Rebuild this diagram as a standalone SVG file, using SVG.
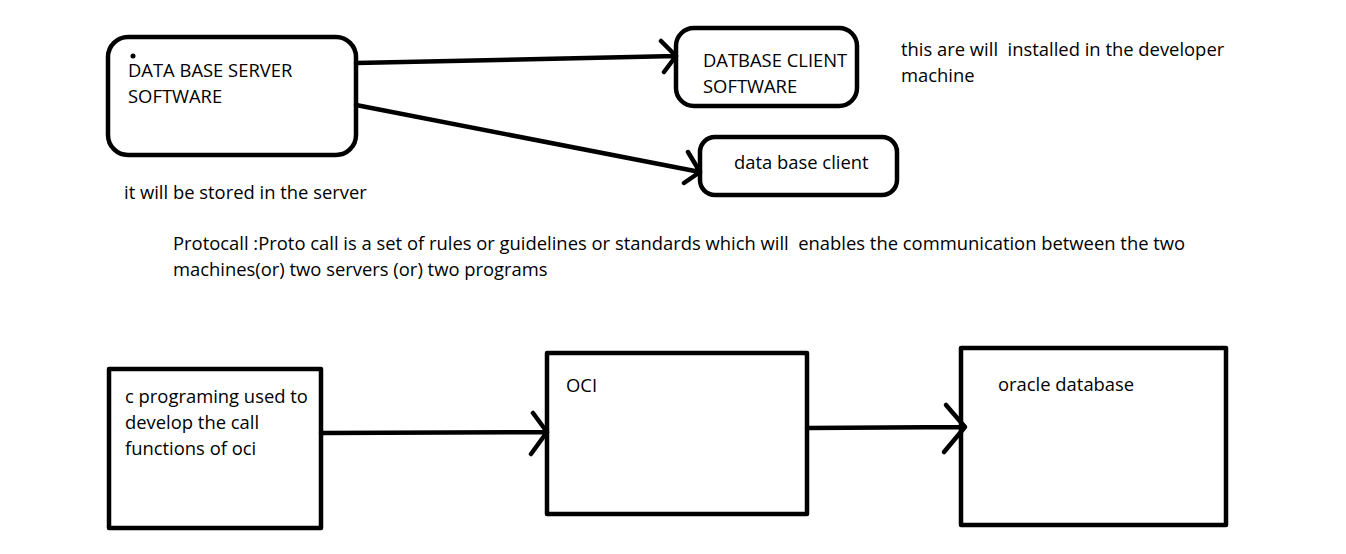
<svg xmlns="http://www.w3.org/2000/svg" width="1346" height="554" viewBox="0 0 1346 554">
<style>
.b{fill:none;stroke:#000;stroke-width:4.5;stroke-linejoin:round}
.c{fill:none;stroke:#000;stroke-width:4.5;stroke-linecap:round;stroke-linejoin:round}
text{font-family:"Open Sans","Liberation Sans",sans-serif;font-size:18.4px;fill:#000;white-space:pre}
</style>
<rect width="1346" height="554" fill="#fff"/>
<g id="server">
<rect class="b" x="108" y="37" width="248" height="118" rx="20"/>
<circle cx="133" cy="56" r="2.5" fill="#000"/>
<text x="128" y="77">DATA BASE SERVER</text>
<text x="128" y="103">SOFTWARE</text>
</g>
<g id="clientsw">
<rect class="b" x="676" y="28" width="181" height="78" rx="18"/>
<text x="703" y="67">DATBASE CLIENT</text>
<text x="703" y="93">SOFTWARE</text>
</g>
<g id="client">
<rect class="b" x="700" y="137" width="197" height="58" rx="15"/>
<text x="734" y="169">data base client</text>
</g>
<g id="notes">
<text x="901" y="56" xml:space="preserve">this are will  installed in the developer</text>
<text x="901" y="82">machine</text>
<text x="124" y="199">it will be stored in the server</text>
<text x="173" y="250" xml:space="preserve">Protocall :Proto call is a set of rules or guidelines or standards which will  enables the communication between the two</text>
<text x="173" y="276">machines(or) two servers (or) two programs</text>
</g>
<g id="cprog">
<rect class="b" x="109" y="369" width="212" height="159"/>
<text x="125" y="403">c programing used to</text>
<text x="125" y="429">develop the call</text>
<text x="125" y="455">functions of oci</text>
</g>
<g id="oci">
<rect class="b" x="547" y="353" width="260" height="161"/>
<text x="566" y="392">OCI</text>
</g>
<g id="oracle">
<rect class="b" x="961" y="348" width="265" height="177"/>
<text x="998" y="391">oracle database</text>
</g>
<g id="connectors">
<path class="c" d="M356 63 L676 56 M661 41 L676 56 L664 72"/>
<path class="c" d="M356 105 L700 172 M688 152 L700 172 L684 183"/>
<path class="c" d="M321 433 L547 432 M533 413 L547 432 L531 454"/>
<path class="c" d="M807 428 L965 427 M946 405 L965 427 L944 452"/>
</g>
</svg>
